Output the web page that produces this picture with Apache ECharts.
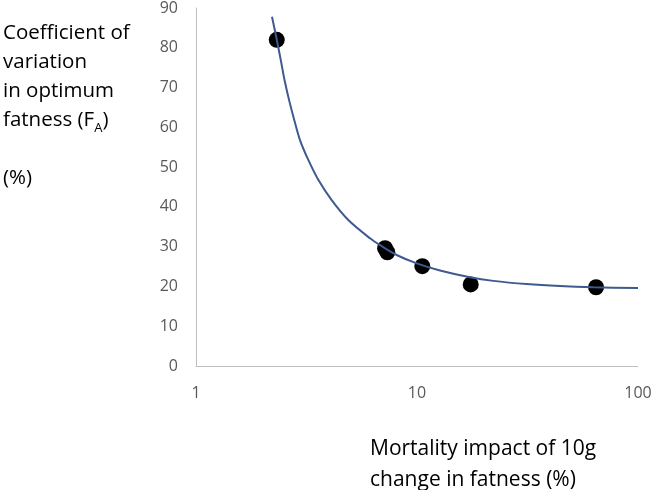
<!DOCTYPE html>
<html><head><meta charset="utf-8">
<script src="https://cdn.jsdelivr.net/npm/echarts@6/dist/echarts.min.js"></script>
<style>html,body{margin:0;padding:0;background:#fff}#c{width:656px;height:490px}</style>
</head><body><div id="c"></div>
<script>
var pointsX = [2.32, 7.17, 7.34, 10.57, 17.5, 64.6];
var pointsY = [82.0, 29.6, 28.6, 25.1, 20.5, 19.8];
var curveX = [2.207, 2.321, 2.419, 2.515, 2.636, 2.785, 2.955, 3.223, 3.576, 4.111, 4.888, 6.129, 6.80, 8.09, 9.97, 12.71, 17.37, 22.14, 31.36, 44.37, 62.8, 100];
var curveY = [87.8, 82.0, 76.9, 71.9, 66.9, 61.8, 56.8, 51.8, 46.8, 41.7, 36.7, 32.1, 30.4, 27.9, 25.8, 24.0, 22.3, 21.4, 20.6, 20.1, 19.8, 19.6];
var yTicks = [0, 90, 10];
var xRange = [1, 100];

var font = '"Open Sans", "Liberation Sans", sans-serif';
var chart = echarts.init(document.getElementById('c'));
chart.setOption({
  animation: false,
  grid: {left: 196, right: 18, top: 8, bottom: 124, containLabel: false},
  xAxis: {
    type: 'log', logBase: 10, min: xRange[0], max: xRange[1],
    axisLine: {show: true, lineStyle: {color: '#bfbfbf', width: 1}},
    axisTick: {show: false}, splitLine: {show: false}, minorTick: {show: false},
    axisLabel: {color: '#595959', fontSize: 16, fontFamily: font, margin: 19}
  },
  yAxis: {
    type: 'value', min: yTicks[0], max: yTicks[1], interval: yTicks[2],
    axisLine: {show: true, lineStyle: {color: '#bfbfbf', width: 1}},
    axisTick: {show: false}, splitLine: {show: false},
    axisLabel: {color: '#595959', fontSize: 16, fontFamily: font, margin: 18}
  },
  graphic: [
    {type: 'text', left: 3, top: 19, style: {
      text: 'Coefficient of\nvariation\nin optimum\n{n|fatness (F}{s|A}{n|)}\n\n(%)',
      rich: {n: {fontSize: 20.5, fontFamily: font, fill: '#000', lineHeight: 29},
             s: {fontSize: 13, fontFamily: font, fill: '#000', lineHeight: 29, verticalAlign: 'bottom', padding: [9,0,0,0]}},
      font: '20.5px ' + font, lineHeight: 29, fill: '#000'}},
    {type: 'text', left: 370, top: 434, style: {
      text: 'Mortality impact of 10g\nchange in fatness (%)',
      font: '21px ' + font, lineHeight: 31, fill: '#000'}}
  ],
  series: [
    {type: 'line', data: curveX.map(function(x, i){return [x, curveY[i]];}),
     smooth: 0.3, showSymbol: false, lineStyle: {color: '#3F5A8E', width: 2}, z: 3},
    {type: 'scatter', data: pointsX.map(function(x, i){return [x, pointsY[i]];}),
     symbolSize: 16, itemStyle: {color: '#000', opacity: 1}, z: 2}
  ]
});
</script></body></html>
